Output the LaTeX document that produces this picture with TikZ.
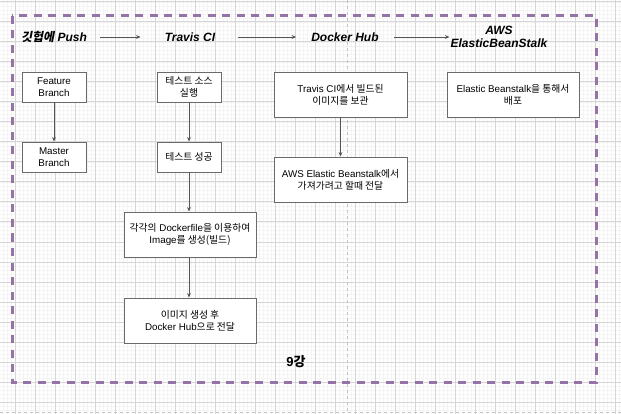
\documentclass[tikz,border=0pt]{standalone}
\usepackage{fontspec}
\setmainfont{Liberation Sans}
\newfontfamily\krfont{Noto Sans CJK KR}
\newfontfamily\krslfont{Noto Sans CJK KR}[FakeSlant=0.2]
\newcommand\kor[1]{{\krfont #1}}
\newcommand\korsl[1]{{\krslfont\bfseries #1}}
\usetikzlibrary{arrows.meta}
\definecolor{gridmaj}{HTML}{D6D6D6}
\definecolor{gridmin}{HTML}{F4F4F4}
\definecolor{pagebrk}{HTML}{C4C4C4}
\definecolor{purp}{HTML}{9673A6}
\definecolor{boxline}{HTML}{6A6A6A}
\definecolor{arrline}{HTML}{555555}
\tikzset{
  box/.style={draw=boxline, line width=0.9pt, fill=white, align=center, inner sep=1pt,
    font=\fontsize{9.8}{12}\selectfont},
  hdr/.style={inner sep=0pt, align=center, font=\fontsize{12}{13.5}\selectfont\bfseries\itshape},
  arr/.style={draw=arrline, line width=0.8pt, -{Stealth[length=4.5pt,width=3.8pt]}},
}
\begin{document}
\begin{tikzpicture}[x=1pt,y=-1pt]
\useasboundingbox (0,0) rectangle (621,414);
\fill[white] (0,0) rectangle (621,414);
% grid
\foreach \i in {0,4,...,620} \draw[gridmin, line width=0.5pt] (\i+3,0) -- (\i+3,414);
\foreach \i in {0,4,...,412} \draw[gridmin, line width=0.5pt] (0,\i+2) -- (621,\i+2);
\foreach \i in {15,35,...,615} \draw[gridmaj, line width=1pt] (\i,0) -- (\i,414);
\foreach \i in {2,22,...,402} \draw[gridmaj, line width=1pt] (0,\i) -- (621,\i);
% page breaks
\draw[pagebrk, line width=1pt, dash pattern=on 3pt off 3pt] (347,0) -- (347,414);
\draw[pagebrk, line width=1pt, dash pattern=on 3pt off 3pt] (0,412) -- (621,412);
% purple container
\draw[purp, line width=3pt, dash pattern=on 8pt off 6.5pt] (12,16) rectangle (596,382);

% headers
\node[hdr] (h1) at (54,37) {\korsl{깃헙에} Push};
\node[hdr] (h2) at (190,37) {Travis CI};
\node[hdr] (h3) at (345,37) {Docker Hub};
\node[hdr] (h4) at (499,37) {AWS\\ElasticBeanStalk};
\draw[arr, shorten <=13pt, shorten >=24pt] (h1.east) -- (h2.west |- h1.east);
\draw[arr, shorten <=23pt, shorten >=15pt] (h2.east) -- (h3.west);
\draw[arr, shorten <=15pt, shorten >=1pt] (h3.east) -- (h4.west |- h3.east);

% boxes
\node[box, minimum width=64pt, minimum height=30pt] (fb) at (54,87) {Feature\\Branch};
\node[box, minimum width=64pt, minimum height=30pt] (mb) at (54,157) {Master\\Branch};
\node[box, minimum width=64pt, minimum height=30pt] (ts) at (189,87) {\kor{테스트 소스}\\\kor{실행}};
\node[box, minimum width=64pt, minimum height=30pt] (tok) at (189,157) {\kor{테스트 성공}};
\node[box, minimum width=132pt, minimum height=45pt] (df) at (190,234.5) {\kor{각각의} Dockerfile\kor{을 이용하여}\\Image\kor{를 생성(빌드)}};
\node[box, minimum width=132pt, minimum height=45pt] (im) at (190,320.5) {\kor{이미지 생성 후}\\Docker Hub\kor{으로 전달}};
\node[box, minimum width=133pt, minimum height=45pt] (tc) at (340.5,94.5) {Travis CI\kor{에서 빌드된}\\\kor{이미지를 보관}};
\node[box, minimum width=133pt, minimum height=45pt] (aw) at (340.5,179.5) {AWS Elastic Beanstalk\kor{에서}\\\kor{가져가려고 할때 전달}};
\node[box, minimum width=132pt, minimum height=45pt] (eb) at (513,94.5) {Elastic Beanstalk\kor{을 통해서}\\\kor{배포}};

\draw[arr] (fb) -- (mb);
\draw[arr] (ts) -- (tok);
\draw[arr] (tok.south) -- (df.north -| tok.south);
\draw[arr] (df.south -| tok.south) -- (im.north -| tok.south);
\draw[arr] (tc) -- (aw);

% label
\node[inner sep=0pt, font=\fontsize{13}{14}\selectfont\bfseries] (lbl) at (296,362) {9\kor{\bfseries 강}};
\end{tikzpicture}
\end{document}
